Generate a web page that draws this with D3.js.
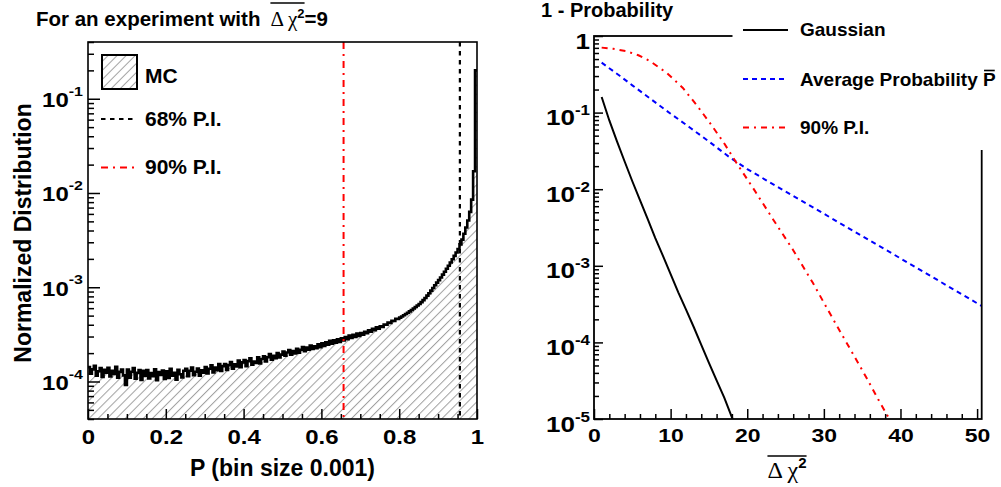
<!DOCTYPE html>
<html>
<head>
<meta charset="utf-8">
<script src="https://cdn.jsdelivr.net/npm/d3@7"></script>
<style>
  body { margin: 0; background: #fff; }
  svg { display: block; font-family: "Liberation Sans", Arial, Helvetica, sans-serif; font-weight: bold; }
</style>
</head>
<body>
<svg id="chart" width="1001" height="487"></svg>
<script>
// ---- left panel data: MC histogram of P, values in units of 1e-4, bin width 0.005 ----
var histBinWidth = 0.005;
var histValues = [
  1.42, 1.21, 1.345, 1.465, 1.15, 1.285, 1.39, 1.12, 1.33, 1.24,
  1.40, 1.13, 1.295, 1.205, 1.43, 1.10, 1.265, 1.34, 1.16, 0.92,
  1.34, 1.10, 1.265, 1.385, 1.07, 1.235, 1.325, 1.04, 1.295, 1.145,
  1.32, 1.08, 1.23, 1.14, 1.35, 1.035, 1.26, 1.17, 1.305, 1.065,
  1.285, 1.09, 1.36, 1.15, 1.24, 1.045, 1.33, 1.195, 1.105, 1.30,
  1.36, 1.135, 1.30, 1.405, 1.165, 1.27, 1.375, 1.15, 1.315, 1.24,
  1.425, 1.215, 1.365, 1.485, 1.245, 1.41, 1.32, 1.53, 1.29, 1.455,
  1.535, 1.325, 1.49, 1.61, 1.37, 1.52, 1.445, 1.67, 1.415, 1.595,
  1.69, 1.45, 1.645, 1.765, 1.51, 1.63, 1.57, 1.81, 1.555, 1.735,
  1.855, 1.63, 1.81, 1.96, 1.705, 1.87, 1.765, 2.005, 1.795, 1.93,
  2.08, 1.88, 2.03, 2.16, 1.93, 2.10, 1.99, 2.22, 2.02, 2.17,
  2.32, 2.10, 2.29, 2.18, 2.41, 2.21, 2.36, 2.25, 2.48, 2.31,
  2.55, 2.38, 2.60, 2.45, 2.70, 2.52, 2.74, 2.58, 2.80, 2.63,
  2.88, 2.72, 2.96, 2.81, 3.07, 2.90, 3.13, 2.97, 3.22, 3.05,
  3.27, 3.14, 3.37, 3.25, 3.50, 3.38, 3.62, 3.51, 3.76, 3.63,
  3.84, 3.80, 4.03, 4.00, 4.21, 4.19, 4.41, 4.40, 4.63, 4.62,
  4.76, 4.90, 5.05, 5.20, 5.37, 5.55, 5.74, 5.95, 6.17, 6.40,
  6.65, 6.95, 7.30, 7.70, 8.15, 8.65, 9.20, 9.80, 10.5, 11.2,
  11.9, 12.7, 13.6, 14.6, 15.7, 16.9, 18.3, 19.8, 21.5, 23.4,
  25.5, 28.5, 32.0, 37.0, 43.0, 51.0, 63.0, 85.0, 170, 2000
];
var pi68Line = 0.956;
var pi90Line = 0.657;
var leftXTicks = [0, 0.2, 0.4, 0.6, 0.8, 1];
var leftXTickLabels = ["0", "0.2", "0.4", "0.6", "0.8", "1"];
var leftYDecades = [-4, -3, -2, -1];

// ---- right panel data: 1 - Probability vs mean delta chi2 ----
var gaussX = [1, 2, 3, 4, 5, 6, 7, 8, 9, 10, 11, 12, 13, 14, 15, 16, 17, 18, 18.1];
var gaussP = [0.16, 0.079, 0.042, 0.023, 0.0127, 0.0072, 0.0041, 0.0023, 0.00135, 0.00078,
              0.00045, 0.00027, 0.00016, 0.000093, 0.000054, 0.000032, 0.000019, 0.0000105, 0.00001];
var avgX = [1, 3.4, 5, 7.5, 10, 12.5, 15, 17.5, 20, 25, 30, 35, 40, 45, 50.6];
var avgP = [0.449, 0.30, 0.227, 0.148, 0.0968, 0.064, 0.042, 0.027, 0.0183, 0.00933,
            0.00478, 0.00244, 0.00125, 0.000637, 0.000299];
var pi90X = [1, 2.5, 4.2, 5.8, 7.3, 9.5, 11.6, 13.4, 15.1, 16.9, 18.6, 21, 23.4, 26, 28.6,
             30.4, 32.1, 33.9, 35.6, 37.1, 38.55];
var pi90P = [0.705, 0.68, 0.636, 0.56, 0.47, 0.33, 0.21, 0.125, 0.074, 0.041, 0.022, 0.0095,
             0.004, 0.0016, 0.00059, 0.00028, 0.00014, 0.000068, 0.000034, 0.000018, 0.00001];
var rightXTicks = [0, 10, 20, 30, 40, 50];
var rightYDecades = [-5, -4, -3, -2, -1, 0];

var FONT = '"Liberation Sans", Arial, Helvetica, sans-serif';
var GREEK = '"Liberation Serif", "DejaVu Serif", serif';

var svg = d3.select("#chart");
var defs = svg.append("defs");

var hatch = defs.append("pattern")
    .attr("id", "hatch")
    .attr("patternUnits", "userSpaceOnUse")
    .attr("width", 6.4).attr("height", 10)
    .attr("patternTransform", "rotate(45)");
hatch.append("line")
    .attr("x1", 0.5).attr("y1", 0).attr("x2", 0.5).attr("y2", 10)
    .attr("stroke", "#a0a0a0").attr("stroke-width", 1);

// minor ticks of a log axis inside a domain
function logMinors(domain) {
    var out = [];
    for (var d = -6; d <= 1; d++) {
        for (var m = 2; m <= 9; m++) {
            var v = m * Math.pow(10, d);
            if (v >= domain[0] * 0.999 && v <= domain[1] * 1.001) out.push(v);
        }
    }
    return out;
}

// "10" with an exponent, squeezed vertically like the original labels
function powerLabel(g, x, y, d, size, supSize, sy, raise) {
    var t = g.append("text")
        .attr("transform", "translate(" + x + "," + y + ") scale(1," + sy + ")")
        .attr("text-anchor", "end")
        .attr("fill", "#000")
        .style("font-family", FONT).style("font-weight", "bold")
        .style("font-size", size + "px");
    if (d === 0) {
        t.text("1");
        return;
    }
    t.append("tspan").text("10");
    t.append("tspan").attr("dy", -raise / sy).style("font-size", supSize + "px").text(String(d));
}

// text made of consecutive runs (different fonts), returns [start, end] of each run
function drawRuns(x, y, runs, anchor) {
    var g = svg.append("g");
    var cx = x, pos = [];
    runs.forEach(function (r) {
        var t = g.append("text")
            .attr("x", cx).attr("y", y + (r.dy || 0))
            .attr("fill", "#000")
            .style("font-family", r.family || FONT)
            .style("font-weight", r.weight || "bold")
            .style("font-size", r.size + "px")
            .text(r.text);
        var w = t.node().getComputedTextLength();
        pos.push([cx, cx + w]);
        cx += w + (r.gap || 0);
    });
    if (anchor === "middle") {
        var shift = (cx - x) / 2;
        g.attr("transform", "translate(" + (-shift) + ",0)");
        pos = pos.map(function (p) { return [p[0] - shift, p[1] - shift]; });
    }
    return pos;
}

// ================= left panel =================
var xL = d3.scaleLinear().domain([0, 1]).range([88, 477]);
var yL = d3.scaleLog().domain([4e-5, 0.4]).range([419, 42]);

defs.append("clipPath").attr("id", "clipL")
    .append("rect").attr("x", 88).attr("y", 42).attr("width", 389).attr("height", 377);

var histPts = histValues.map(function (v, i) { return [i * histBinWidth, v * 1e-4]; });
histPts.push([1, histValues[histValues.length - 1] * 1e-4]);

var left = svg.append("g").attr("clip-path", "url(#clipL)");
left.append("path")
    .datum(histPts)
    .attr("d", d3.area().curve(d3.curveStepAfter)
        .x(function (d) { return xL(d[0]); })
        .y0(419)
        .y1(function (d) { return yL(d[1]); }))
    .attr("fill", "url(#hatch)");
left.append("path")
    .datum(histPts)
    .attr("d", d3.line().curve(d3.curveStepAfter)
        .x(function (d) { return xL(d[0]); })
        .y(function (d) { return yL(d[1]); }))
    .attr("fill", "none").attr("stroke", "#000").attr("stroke-width", 2.6);

left.append("line")
    .attr("x1", xL(pi90Line)).attr("x2", xL(pi90Line)).attr("y1", 42).attr("y2", 419)
    .attr("stroke", "#ff0000").attr("stroke-width", 2).attr("stroke-dasharray", "7,5,2,5");
left.append("line")
    .attr("x1", xL(pi68Line)).attr("x2", xL(pi68Line)).attr("y1", 42).attr("y2", 419)
    .attr("stroke", "#000").attr("stroke-width", 2.2).attr("stroke-dasharray", "4.5,4.5");

// x axis (ticks inward)
var minorXL = d3.range(0.05, 1, 0.05).filter(function (v) { return Math.abs(v * 5 - Math.round(v * 5)) > 1e-6; });
var gxLminor = svg.append("g").attr("transform", "translate(0,419)")
    .call(d3.axisBottom(xL).tickValues(minorXL).tickSize(-5).tickFormat(""));
var gxL = svg.append("g").attr("transform", "translate(0,419)")
    .call(d3.axisBottom(xL).tickValues(leftXTicks).tickSize(-10)
        .tickFormat(function (d, i) { return leftXTickLabels[i]; }));
gxL.selectAll("text")
    .attr("y", 0).attr("dy", 0)
    .attr("transform", "translate(0,25) scale(1,0.83)")
    .attr("fill", "#000")
    .style("font-family", FONT).style("font-weight", "bold").style("font-size", "24px");

// y axis (log)
var majorsL = leftYDecades.map(function (d) { return Math.pow(10, d); });
var gyLminor = svg.append("g").attr("transform", "translate(88,0)")
    .call(d3.axisLeft(yL).tickValues(logMinors(yL.domain())).tickSize(-6).tickFormat(""));
var gyL = svg.append("g").attr("transform", "translate(88,0)")
    .call(d3.axisLeft(yL).tickValues(majorsL).tickSize(-12).tickFormat(""));
gyL.selectAll(".tick").each(function (d, i) {
    powerLabel(d3.select(this), -5, 8, leftYDecades[i], 24, 16, 0.83, 11.5);
});

[gxLminor, gxL, gyLminor, gyL].forEach(function (g) {
    g.select(".domain").remove();
    g.selectAll("line").attr("stroke", "#000").attr("stroke-width", 1.5);
});

svg.append("rect")
    .attr("x", 88).attr("y", 42).attr("width", 389).attr("height", 377)
    .attr("fill", "none").attr("stroke", "#000").attr("stroke-width", 1.6);

// left legend
svg.append("rect")
    .attr("x", 102).attr("y", 55).attr("width", 35).attr("height", 34)
    .attr("fill", "url(#hatch)").attr("stroke", "#000").attr("stroke-width", 2);
svg.append("text").attr("x", 145).attr("y", 82.5).style("font-size", "21px").text("MC");
svg.append("line").attr("x1", 101).attr("x2", 137).attr("y1", 119).attr("y2", 119)
    .attr("stroke", "#000").attr("stroke-width", 2.2).attr("stroke-dasharray", "4.5,4.5");
svg.append("text").attr("x", 145).attr("y", 126).style("font-size", "21px").text("68% P.I.");
svg.append("line").attr("x1", 101).attr("x2", 137).attr("y1", 167.5).attr("y2", 167.5)
    .attr("stroke", "#ff0000").attr("stroke-width", 2).attr("stroke-dasharray", "7,5,2,5");
svg.append("text").attr("x", 145).attr("y", 174).style("font-size", "21px").text("90% P.I.");

// axis titles
svg.append("text").attr("x", 282.5).attr("y", 476).attr("text-anchor", "middle")
    .style("font-size", "23px").text("P (bin size 0.001)");
svg.append("text").attr("transform", "translate(31,233) rotate(-90)").attr("text-anchor", "middle")
    .style("font-size", "23px").text("Normalized Distribution");

// title with overlined mean delta chi2
var tpos = drawRuns(36, 26, [
    {text: "For an experiment with", size: 20.5, gap: 10},
    {text: "\u0394 \u03c7", size: 21, family: GREEK, weight: "normal"},
    {text: "2", size: 13, dy: -8},
    {text: "=9", size: 20.5}
]);
svg.append("line").attr("x1", tpos[1][0]).attr("x2", tpos[2][1]).attr("y1", 3).attr("y2", 3)
    .attr("stroke", "#000").attr("stroke-width", 1.5);

// ================= right panel =================
var xR = d3.scaleLinear().domain([0, 50.6]).range([594, 981.7]);
var yR = d3.scaleLog().domain([1e-5, 1]).range([419, 36]);

defs.append("clipPath").attr("id", "clipR")
    .append("rect").attr("x", 594).attr("y", 36).attr("width", 387.7).attr("height", 383);

function curve(xs, ys) {
    return d3.line()
        .x(function (d, i) { return xR(xs[i]); })
        .y(function (d, i) { return yR(ys[i]); })(ys);
}
var right = svg.append("g").attr("clip-path", "url(#clipR)");
right.append("path").attr("d", curve(avgX, avgP))
    .attr("fill", "none").attr("stroke", "#0000ff").attr("stroke-width", 2).attr("stroke-dasharray", "5,4");
right.append("path").attr("d", curve(pi90X, pi90P))
    .attr("fill", "none").attr("stroke", "#ff0000").attr("stroke-width", 2).attr("stroke-dasharray", "6,5,2,5");
right.append("path").attr("d", curve(gaussX, gaussP))
    .attr("fill", "none").attr("stroke", "#000").attr("stroke-width", 2);

var minorXR = d3.range(2, 51, 2).filter(function (v) { return v % 10 !== 0; });
var gxRminor = svg.append("g").attr("transform", "translate(0,419)")
    .call(d3.axisBottom(xR).tickValues(minorXR).tickSize(-5).tickFormat(""));
var gxR = svg.append("g").attr("transform", "translate(0,419)")
    .call(d3.axisBottom(xR).tickValues(rightXTicks).tickSize(-10).tickFormat(d3.format("d")));
gxR.selectAll("text")
    .attr("y", 0).attr("dy", 0)
    .attr("transform", "translate(0,23) scale(1,0.8)")
    .attr("fill", "#000")
    .style("font-family", FONT).style("font-weight", "bold").style("font-size", "23px");

var majorsR = rightYDecades.map(function (d) { return Math.pow(10, d); });
var gyRminor = svg.append("g").attr("transform", "translate(594,0)")
    .call(d3.axisLeft(yR).tickValues(logMinors(yR.domain())).tickSize(-5).tickFormat(""));
var gyR = svg.append("g").attr("transform", "translate(594,0)")
    .call(d3.axisLeft(yR).tickValues(majorsR).tickSize(-9).tickFormat(""));
gyR.selectAll(".tick").each(function (d, i) {
    powerLabel(d3.select(this), -4, 12, rightYDecades[i], 26, 17, 0.88, 10);
});

[gxRminor, gxR, gyRminor, gyR].forEach(function (g) {
    g.select(".domain").remove();
    g.selectAll("line").attr("stroke", "#000").attr("stroke-width", 1.5);
});

svg.append("rect")
    .attr("x", 594).attr("y", 36).attr("width", 387.7).attr("height", 383)
    .attr("fill", "none").attr("stroke", "#000").attr("stroke-width", 1.8);

// legend box (white, no border) hides the top-right of the frame
svg.append("rect").attr("x", 732.5).attr("y", 0).attr("width", 270).attr("height", 150).attr("fill", "#fff");
svg.append("line").attr("x1", 743).attr("x2", 788).attr("y1", 30).attr("y2", 30)
    .attr("stroke", "#000").attr("stroke-width", 2);
svg.append("text").attr("x", 800).attr("y", 36).style("font-size", "19px").text("Gaussian");
svg.append("line").attr("x1", 743).attr("x2", 788).attr("y1", 79).attr("y2", 79)
    .attr("stroke", "#0000ff").attr("stroke-width", 2).attr("stroke-dasharray", "5,4");
var lpos = drawRuns(800, 86, [
    {text: "Average Probability", size: 19, gap: 5.3},
    {text: "P", size: 19}
]);
svg.append("line").attr("x1", lpos[1][0] + 1).attr("x2", lpos[1][1] - 1).attr("y1", 70.5).attr("y2", 70.5)
    .attr("stroke", "#000").attr("stroke-width", 1.6);
svg.append("line").attr("x1", 743).attr("x2", 788).attr("y1", 127.5).attr("y2", 127.5)
    .attr("stroke", "#ff0000").attr("stroke-width", 2).attr("stroke-dasharray", "6,5,2,5");
svg.append("text").attr("x", 800).attr("y", 134).style("font-size", "19px").text("90% P.I.");

// titles
svg.append("text").attr("x", 541).attr("y", 17).style("font-size", "20px").text("1 - Probability");
var xpos = drawRuns(787, 478, [
    {text: "\u0394 \u03c7", size: 24, family: GREEK, weight: "normal"},
    {text: "2", size: 15, dy: -10}
], "middle");
svg.append("line").attr("x1", xpos[0][0]).attr("x2", xpos[1][1]).attr("y1", 456).attr("y2", 456)
    .attr("stroke", "#000").attr("stroke-width", 1.5);
</script>
</body>
</html>
